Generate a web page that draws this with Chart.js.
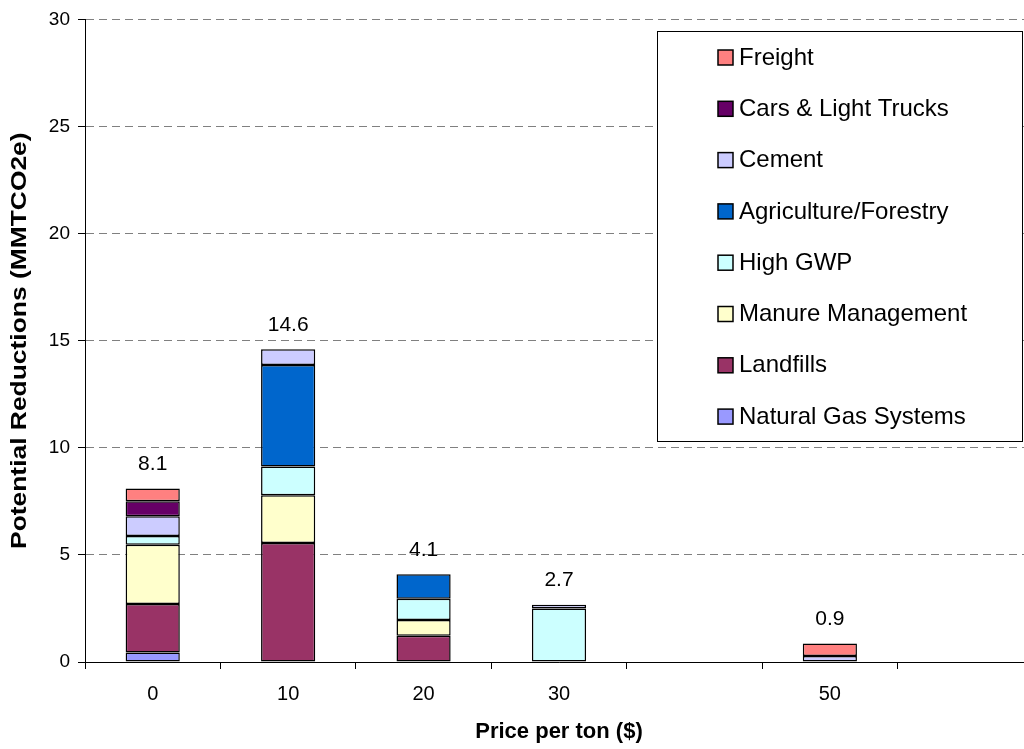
<!DOCTYPE html>
<html>
<head>
<meta charset="utf-8">
<script src="https://cdn.jsdelivr.net/npm/chart.js@4/dist/chart.umd.min.js"></script>
<style>
  html, body { margin: 0; padding: 0; background: #fff; overflow: hidden; }
  #wrap { width: 1024px; height: 749px; overflow: hidden; }
</style>
</head>
<body>
<div id="wrap"><canvas id="reductions" width="1040" height="749"></canvas></div>
<script>
// categories (price per ton), empty slots keep the gaps of the original axis
const prices = ['0', '10', '20', '30', '', '50', ''];

// reductions per sector (MMTCO2e)
const naturalGas  = [0.44, null, null, null, null, null, null];
const landfills   = [2.27, 5.55, 1.22, null, null, null, null];
const manure      = [2.76, 2.23, 0.74, null, null, null, null];
const highGwp     = [0.41, 1.35, 0.99, 2.50, null, null, null];
const agriculture = [null, 4.73, 1.15, null, null, null, null];
const cement      = [0.93, 0.74, null, 0.17, null, 0.28, null];
const cars        = [0.70, null, null, null, null, null, null];
const freight     = [0.59, null, null, null, null, 0.58, null];

// totals printed above each bar
const totals = [8.1, 14.6, 4.1, 2.7, null, 0.9, null];

const yTicks = [0, 5, 10, 15, 20, 25, 30];
const yTitle = 'Potential Reductions (MMTCO2e)';

//-------------------------------------Plugins-------------------------------------
// totals above the bars
const totalLabels = {
  id: 'totalLabels',
  afterDatasetsDraw(chart) {
    const ctx = chart.ctx;
    const xs = chart.scales.x;
    const ys = chart.scales.y;
    ctx.save();
    ctx.font = '21px "Liberation Sans", Arial, sans-serif';
    ctx.fillStyle = '#000';
    ctx.textAlign = 'center';
    ctx.textBaseline = 'middle';
    totals.forEach((t, i) => {
      if (t === null) return;
      ctx.fillText(t.toFixed(1), xs.getPixelForValue(i), ys.getPixelForValue(t) - 24);
    });
    ctx.restore();
  }
};

// y title, a bit stretched along its length like the original
const stretchedYTitle = {
  id: 'stretchedYTitle',
  afterDraw(chart) {
    const ctx = chart.ctx;
    const a = chart.chartArea;
    ctx.save();
    ctx.translate(20, (a.top + a.bottom) / 2);
    ctx.rotate(-Math.PI / 2);
    ctx.scale(1.2, 1);
    ctx.font = 'bold 22px "Liberation Sans", Arial, sans-serif';
    ctx.fillStyle = '#000';
    ctx.textAlign = 'center';
    ctx.textBaseline = 'middle';
    ctx.fillText(yTitle, 0, 0);
    ctx.restore();
  }
};

// boxed legend in the top right corner, top item = last series
const boxLegend = {
  id: 'boxLegend',
  afterDraw(chart) {
    const ctx = chart.ctx;
    const sets = chart.data.datasets.slice().reverse();
    ctx.save();
    ctx.fillStyle = '#fff';
    ctx.fillRect(657, 31, 365, 410);
    ctx.strokeStyle = '#000';
    ctx.lineWidth = 1;
    ctx.strokeRect(657.5, 31.5, 365, 410);
    ctx.font = '24px "Liberation Sans", Arial, sans-serif';
    ctx.textBaseline = 'middle';
    sets.forEach((ds, i) => {
      const y = 57 + i * 51.3;
      ctx.fillStyle = ds.backgroundColor;
      ctx.fillRect(718, y - 7, 15, 15);
      ctx.strokeStyle = '#000';
      ctx.lineWidth = 1.5;
      ctx.strokeRect(718, y - 7, 15, 15);
      ctx.fillStyle = '#000';
      ctx.fillText(ds.label, 739, y + 1);
    });
    ctx.restore();
  }
};

//-------------------------------------Graphique-------------------------------------
function serie(label, data, color) {
  return {
    label: label,
    data: data,
    backgroundColor: color,
    borderColor: '#000',
    borderWidth: 1.5,
    borderSkipped: false,
    barPercentage: 0.4,
    categoryPercentage: 1.0
  };
}

const ctx = document.getElementById('reductions').getContext('2d');
new Chart(ctx, {
  type: 'bar',
  data: {
    labels: prices,
    datasets: [
      serie('Natural Gas Systems', naturalGas, '#9999FF'),
      serie('Landfills', landfills, '#993366'),
      serie('Manure Management', manure, '#FFFFCC'),
      serie('High GWP', highGwp, '#CCFFFF'),
      serie('Agriculture/Forestry', agriculture, '#0066CC'),
      serie('Cement', cement, '#CCCCFF'),
      serie('Cars & Light Trucks', cars, '#660066'),
      serie('Freight', freight, '#FF8080')
    ]
  },
  options: {
    responsive: false,
    animation: false,
    layout: { padding: { top: 16, right: 7, left: 0, bottom: 0 } },
    plugins: {
      legend: { display: false },
      tooltip: { enabled: false }
    },
    scales: {
      x: {
        stacked: true,
        afterFit(s) { s.height = 87; },
        grid: {
          offset: true,
          drawOnChartArea: false,
          drawTicks: true,
          tickLength: 7,
          tickColor: '#000'
        },
        border: { color: '#000', width: 1 },
        ticks: {
          color: '#000',
          padding: 13,
          maxRotation: 0,
          font: { family: '"Liberation Sans", Arial, sans-serif', size: 20 }
        },
        title: {
          display: true,
          text: 'Price per ton ($)',
          color: '#000',
          padding: { top: 0, bottom: 4 },
          font: { family: '"Liberation Sans", Arial, sans-serif', size: 22, weight: 'bold' }
        }
      },
      y: {
        stacked: true,
        min: 0,
        max: 30,
        afterFit(s) { s.width = 85; },
        afterBuildTicks(s) { s.ticks = yTicks.map(v => ({ value: v })); },
        grid: {
          color: '#808080',
          lineWidth: 1,
          drawTicks: true,
          tickLength: 7,
          tickColor: '#000'
        },
        border: { color: '#000', width: 1, dash: [8, 5] },
        ticks: {
          color: '#000',
          padding: 8,
          font: { family: '"Liberation Sans", Arial, sans-serif', size: 19 }
        },
        title: { display: false }
      }
    }
  },
  plugins: [totalLabels, stretchedYTitle, boxLegend]
});
</script>
</body>
</html>
